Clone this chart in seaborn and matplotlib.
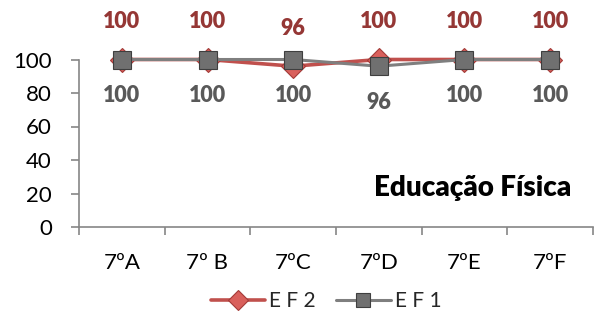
import matplotlib
matplotlib.use("Agg")
import matplotlib.pyplot as plt
import seaborn as sns
import pandas as pd
from matplotlib.ticker import FixedLocator

categories = ["7ºA", "7º B", "7ºC", "7ºD", "7ºE", "7ºF"]
ef2 = [100, 100, 96, 100, 100, 100]
ef1 = [100, 100, 100, 96, 100, 100]
yticks = [0, 20, 40, 60, 80, 100]
title = "Educação Física"

sns.set_theme(style="white")
plt.rcParams['font.family'] = ['Lato', 'DejaVu Sans']

df2 = pd.DataFrame({"cat": categories, "val": ef2})
df1 = pd.DataFrame({"cat": categories, "val": ef1})

fig = plt.figure(figsize=(5.96, 3.17), dpi=100)
ax = fig.add_axes([79/596, 90/317, 514/596, 167.5/317])

red_line = "#C0504D"
gray_line = "#7F7F7F"

sns.lineplot(data=df2, x="cat", y="val", ax=ax, sort=False, color=red_line,
             linewidth=2.6, marker="D", markersize=12.5, markerfacecolor="#D9605C",
             markeredgecolor="#A33B38", markeredgewidth=0.8, label="E F 2",
             clip_on=False, zorder=3)
sns.lineplot(data=df1, x="cat", y="val", ax=ax, sort=False, color=gray_line,
             linewidth=2.2, marker="s", markersize=13, markerfacecolor="#707070",
             markeredgecolor="#3F3F3F", markeredgewidth=0.8, label="E F 1",
             clip_on=False, zorder=4)

ax.set_xlim(-0.5, len(categories) - 0.5)
ax.set_ylim(0, 100)
ax.set_yticks(yticks)
ax.set_xlabel("")
ax.set_ylabel("")

for s in ["top", "right"]:
    ax.spines[s].set_visible(False)
for s in ["left", "bottom"]:
    ax.spines[s].set_color("#868686")
    ax.spines[s].set_linewidth(1.2)

ax.tick_params(axis="y", which="major", direction="out", length=5.5, width=1.2,
               color="#868686", labelsize=16, pad=14, labelcolor="black", left=True)
ax.tick_params(axis="x", which="major", length=0, labelsize=16, pad=19, labelcolor="black")
ax.xaxis.set_minor_locator(FixedLocator([i + 0.5 for i in range(-1, len(categories))]))
ax.tick_params(axis="x", which="minor", direction="out", length=5.5, width=1.2,
               color="#868686", bottom=True)

for i, v in enumerate(ef2):
    ax.annotate(str(v), (i, v), xytext=(0, 27), textcoords="offset points",
                ha="center", va="center", fontsize=15.5, fontweight="heavy",
                color="#953735", annotation_clip=False)
for i, v in enumerate(ef1):
    ax.annotate(str(v), (i, v), xytext=(0, -26), textcoords="offset points",
                ha="center", va="center", fontsize=15.5, fontweight="heavy",
                color="#595959", annotation_clip=False)

ax.text(0.958, 0.233, title, transform=ax.transAxes, ha="right", va="center",
        fontsize=20, fontweight="heavy", color="black")

ax.get_legend().remove()
handles, labels = ax.get_legend_handles_labels()
fig.legend(handles, labels, loc="center", bbox_to_anchor=(326/596, 1 - 301/317),
           ncol=2, frameon=False, fontsize=15, handlelength=2.6, handletextpad=0.2,
           columnspacing=1.0, borderpad=0, markerscale=0.8)

fig.savefig("out.png", dpi=100)
